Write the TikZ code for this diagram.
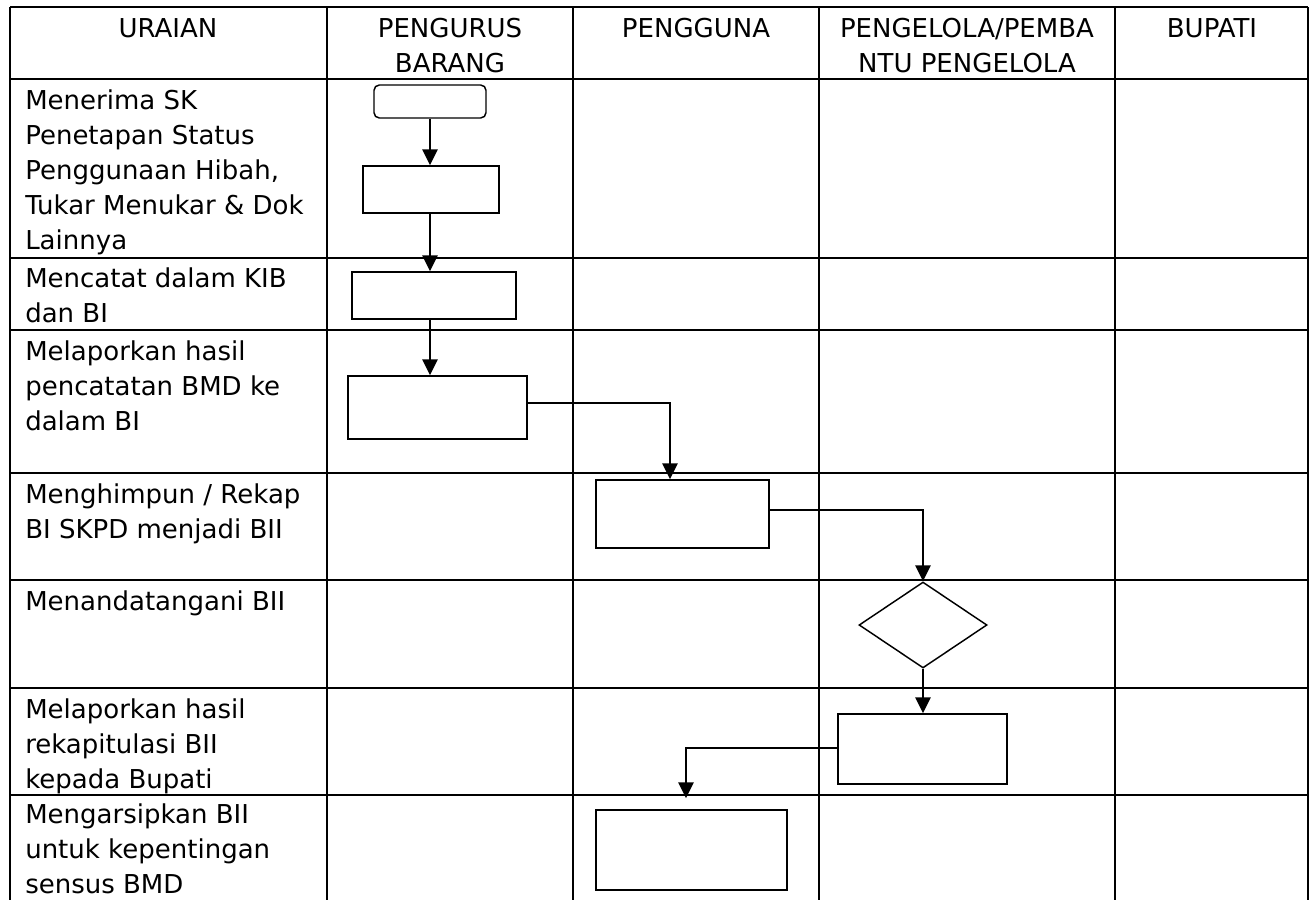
\documentclass[tikz,border=0pt]{standalone}
\usepackage{fontspec}
\setmainfont{DejaVu Sans}
\usetikzlibrary{arrows.meta,shapes.geometric,calc}
\newcommand{\lcell}[1]{\parbox[t]{230pt}{\raggedright #1}}
\newcommand{\ccell}[1]{\parbox[t]{210pt}{\centering #1}}
\begin{document}
\begin{tikzpicture}[x=0.75pt,y=-0.75pt,
  gridline/.style={line width=1.4pt},
  txt/.style={font=\fontsize{19.5pt}{26.25pt}\selectfont, inner sep=0pt},
  lbl/.style={txt, anchor=base west},
  hdr/.style={txt, anchor=base},
  box/.style={draw, line width=1.1pt, inner sep=0pt, rectangle},
  dec/.style={draw, line width=1.1pt, inner sep=0pt, diamond},
  arr/.style={line width=1.3pt, -{Triangle[length=12pt,width=11.5pt]}}]
\useasboundingbox (0,0) rectangle (1310,900);
% table grid
\foreach \yy in {7,79,258,330,473,580,688,795}
  \draw[gridline] (10,\yy) -- (1308,\yy);
\foreach \xx in {10,327,573,819,1115,1308}
  \draw[gridline] (\xx,7) -- (\xx,900);
% header
\node[hdr] (h1) at (168,37) {\ccell{URAIAN}};
\node[hdr] (h2) at (450,37) {\ccell{PENGURUS\\BARANG}};
\node[hdr] (h3) at (696,37) {\ccell{PENGGUNA}};
\node[hdr] (h4) at (967,37) {\ccell{PENGELOLA/PEMBA\\NTU PENGELOLA}};
\node[hdr] (h5) at (1212,37) {\ccell{BUPATI}};
% row descriptions
\node[lbl] (r1) at (25,109) {\lcell{Menerima SK\\Penetapan Status\\Penggunaan Hibah,\\Tukar Menukar \& Dok\\Lainnya}};
\node[lbl] (r2) at (25,287) {\lcell{Mencatat dalam KIB\\dan BI}};
\node[lbl] (r3) at (25,360) {\lcell{Melaporkan hasil\\pencatatan BMD ke\\dalam BI}};
\node[lbl] (r4) at (25,503) {\lcell{Menghimpun / Rekap\\BI SKPD menjadi BII}};
\node[lbl] (r5) at (25,610) {\lcell{Menandatangani BII}};
\node[lbl] (r6) at (25,718) {\lcell{Melaporkan hasil\\rekapitulasi BII\\kepada Bupati}};
\node[lbl] (r7) at (25,823) {\lcell{Mengarsipkan BII\\untuk kepentingan\\sensus BMD}};
% flow shapes
\node[box, rounded corners=4pt, minimum width=84pt, minimum height=24.75pt] (start) at (430,101.5) {};
\node[box, minimum width=102pt, minimum height=35.25pt] (b2) at (431,189.5) {};
\node[box, minimum width=123pt, minimum height=35.25pt] (b3) at (434,295.5) {};
\node[box, minimum width=134.25pt, minimum height=47.25pt] (b4) at (437.5,407.5) {};
\node[box, minimum width=129.75pt, minimum height=51pt] (b5) at (682.5,514) {};
\node[dec, minimum width=96pt, minimum height=64.5pt] (d6) at (923,625) {};
\node[box, minimum width=126.75pt, minimum height=52.5pt] (b7) at (922.5,749) {};
\node[box, minimum width=143.25pt, minimum height=60pt] (b8) at (691.5,850) {};
% connectors
\draw[arr] (start.south) -- (start.south |- b2.north);
\draw[arr] (b2.south -| start.south) -- (b3.north -| start.south);
\draw[arr] (b3.south -| start.south) -- (b4.north -| start.south);
\draw[arr] ($(b4.east)+(0,-4.5)$) -| ($(b5.north)+(-12.5,0)$);
\draw[arr] ($(b5.east)+(0,-4)$) -| (d6.north);
\draw[arr] (d6.south) -- (d6.south |- b7.north);
\draw[arr, shorten >=8.25pt] ($(b7.west)+(0,-1)$) -| ($(b8.north)+(-5.5,0)$);
\end{tikzpicture}
\end{document}
